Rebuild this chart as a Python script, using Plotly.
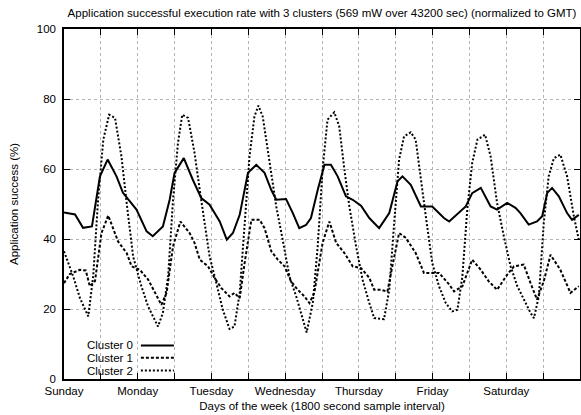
import plotly.graph_objects as go

# ---- data (hours since Sunday 00:00 GMT, success %) ----
c0_hours = [0.0, 3.6, 6.2, 9.1, 11.7, 14.2, 17.1, 19.2, 23.6, 26.9, 28.9, 32.2, 34.4, 36.0, 39.0,
            41.9, 44.7, 47.4, 50.7, 53.0, 55.0, 57.2, 59.9, 62.6, 65.3, 67.5, 69.1, 72.3, 74.5,
            76.6, 78.8, 80.4, 82.6, 84.8, 86.9, 89.1, 91.8, 94.0, 96.7, 99.4, 102.6, 105.9, 108.6,
            110.2, 112.9, 116.2, 119.9, 123.7, 125.4, 128.6, 130.8, 132.9, 135.7, 138.9, 141.0,
            144.3, 147.0, 148.6, 151.3, 154.0, 155.7, 157.3, 158.9, 161.1, 163.8, 165.4, 167.6]
c0_values = [47.6, 47.0, 43.2, 43.6, 57.9, 62.7, 57.9, 53.2, 48.4, 42.2, 40.8, 43.6, 51.2, 58.9, 63.1,
             57.0, 51.7, 49.8, 45.0, 39.8, 41.7, 46.9, 58.9, 61.2, 58.9, 54.0, 51.2, 51.4, 47.4,
             43.1, 44.0, 46.0, 54.0, 61.2, 61.2, 57.9, 52.2, 51.2, 49.5, 46.0, 43.1, 47.4, 56.5,
             57.9, 55.5, 49.3, 49.3, 46.0, 45.0, 47.4, 49.3, 53.1, 54.6, 49.3, 48.4,
             50.3, 48.9, 47.4, 44.1, 45.0, 46.5, 53.1, 54.6, 52.2, 47.4, 45.5, 46.9]

c1_hours = [0.0, 1.9, 5.2, 7.1, 8.4, 10.1, 12.2, 14.4, 17.6, 20.4, 22.0, 24.7, 27.4, 30.1, 31.7,
            33.4, 35.5, 37.9, 40.9, 42.5, 44.2, 46.9, 49.0, 51.2, 53.9, 55.5, 57.2, 58.8, 61.0,
            63.7, 65.3, 67.5, 69.6, 71.8, 73.9, 76.1, 78.3, 79.9, 81.5, 84.2, 86.4, 88.6, 91.3,
            94.0, 96.7, 99.4, 101.0, 103.2, 105.3, 106.9, 109.1, 111.3, 114.5, 117.2, 119.9,
            122.1, 125.4, 127.0, 129.7, 132.9, 135.7, 138.3, 141.0, 144.3, 146.5, 149.7, 151.9,
            154.0, 156.2, 158.4, 161.6, 164.9, 167.6]
c1_values = [27.4, 30.0, 31.2, 31.0, 26.5, 28.0, 41.7, 46.7, 39.3, 36.0, 32.2, 31.2, 28.4, 24.1, 21.2,
             24.6, 37.9, 45.0, 41.7, 38.9, 34.1, 32.2, 28.9, 26.0, 23.6, 24.6, 23.1, 33.1, 45.5,
             45.5, 43.1, 36.5, 34.1, 32.2, 27.9, 25.5, 23.6, 21.7, 24.6, 38.9, 45.0, 38.9, 36.0,
             32.2, 31.7, 28.9, 25.5, 25.5, 25.0, 32.2, 41.7, 40.3, 36.0, 30.3, 30.3,
             30.3, 27.0, 25.0, 26.5, 34.1, 31.2, 27.9, 25.5, 29.8, 32.2, 32.7, 27.4,
             22.7, 27.9, 35.5, 31.2, 24.6, 26.5]

c2_hours = [0.0, 3.0, 5.2, 7.9, 9.5, 11.1, 12.8, 14.7, 16.6, 18.7, 20.4, 22.5, 25.2, 27.4, 30.6,
            32.2, 33.9, 35.5, 37.1, 38.5, 40.4, 42.5, 44.2, 47.4, 49.6, 51.7, 53.9, 55.5, 57.2,
            58.8, 60.4, 62.0, 63.3, 64.7, 66.9, 69.1, 71.2, 73.4, 75.6, 77.7, 79.0, 81.0, 82.6,
            84.2, 85.8, 88.0, 89.6, 91.3, 92.9, 95.1, 97.2, 99.4, 101.0, 104.2, 105.9, 107.5,
            109.1, 110.7, 112.9, 114.5, 116.2, 117.8, 119.9, 122.1, 124.3, 126.4, 128.1, 129.7,
            131.3, 132.9, 134.6, 137.1, 138.9, 141.0, 143.2, 145.4, 147.6, 149.7, 151.9, 153.0,
            154.6, 156.2, 157.8, 159.5, 161.6, 163.8, 166.0, 167.6]
c2_values = [36.5, 29.3, 23.1, 17.9, 29.3, 51.2, 68.4, 75.5, 74.6, 63.6, 50.3, 35.0, 26.5, 20.7, 15.0,
             18.9, 29.3, 51.2, 67.4, 75.5, 74.6, 64.6, 54.0, 35.0, 27.4, 19.8, 14.3, 15.0, 24.6,
             44.6, 63.6, 75.0, 78.1, 75.0, 62.7, 49.3, 39.8, 29.3, 23.6, 16.9, 13.3, 21.7, 37.9,
             60.0, 74.1, 76.2, 72.2, 59.8, 49.3, 37.9, 28.4, 21.7, 17.4, 17.1, 25.5, 44.6,
             62.7, 69.3, 70.5, 68.4, 57.9, 46.5, 33.1, 26.5, 21.7, 19.3, 19.8, 29.3,
             48.4, 61.7, 68.4, 69.8, 63.6, 50.3, 40.8, 32.2, 26.5, 22.7, 18.9, 17.4,
             23.6, 44.6, 57.9, 63.1, 64.1, 57.9, 46.5, 39.8]

series_names = ["Cluster 0", "Cluster 1", "Cluster 2"]
day_names = ["Sunday", "Monday", "Tuesday", "Wednesday", "Thursday", "Friday", "Saturday"]
y_ticks = [0, 20, 40, 60, 80, 100]

FONT = "Liberation Sans, Arial, Helvetica, sans-serif"
dashes = ["solid", "3px,2px", "2px,2px"]

fig = go.Figure()
for name, xs, ys, d in zip(series_names, [c0_hours, c1_hours, c2_hours],
                           [c0_values, c1_values, c2_values], dashes):
    fig.add_trace(go.Scatter(x=xs, y=ys, mode="lines", name=name,
                             line=dict(color="black", width=2, dash=d),
                             showlegend=False))

# x ticks every 12 hours, labels on day starts
tickvals = list(range(0, 169, 12))
ticktext = []
for v in tickvals:
    if v % 24 == 0 and v // 24 < len(day_names):
        ticktext.append(day_names[v // 24])
    else:
        ticktext.append("")

grid = dict(showgrid=True, gridcolor="#b4b4b4", gridwidth=1, griddash="dot")
fig.update_xaxes(range=[0, 168], tickmode="array", tickvals=tickvals, ticktext=ticktext,
                 ticks="inside", ticklen=6, tickcolor="black", tickwidth=1,
                 showline=True, linecolor="black", linewidth=1.5, mirror="ticks",
                 zeroline=False, tickfont=dict(size=11.5, color="black"),
                 title=dict(text="Days of the week (1800 second sample interval)",
                            font=dict(size=11.5, color="black"), standoff=6),
                 automargin=False,
                 **grid)
fig.update_yaxes(range=[0, 100], tickmode="array", tickvals=y_ticks,
                 ticks="inside", ticklen=6, tickcolor="black", tickwidth=1,
                 showline=True, linecolor="black", linewidth=1.5, mirror="ticks",
                 zeroline=False, tickfont=dict(size=11.5, color="black"),
                 ticklabelstandoff=4,
                 title=dict(text="Application success (%)",
                            font=dict(size=11.5, color="black"), standoff=16),
                 automargin=False,
                 **grid)

# gnuplot-style legend (label, then line sample)
leg_y = [0.096, 0.061, 0.024]
for name, d, yy in zip(series_names, dashes, leg_y):
    fig.add_annotation(xref="paper", yref="paper", x=0.137, y=yy, text=name,
                       showarrow=False, xanchor="right", yanchor="middle",
                       font=dict(size=11.5, color="black", family=FONT))
    fig.add_shape(type="line", xref="paper", yref="paper", x0=0.149, x1=0.213, y0=yy, y1=yy,
                  line=dict(color="black", width=2, dash=d))

fig.update_layout(
    width=581, height=415,
    margin=dict(l=64, r=1, t=29, b=36),
    paper_bgcolor="white", plot_bgcolor="white",
    font=dict(family=FONT, size=11.5, color="black"),
    title=dict(text="Application successful execution rate with 3 clusters (569 mW over 43200 sec) (normalized to GMT)",
               x=0.5, xref="paper", xanchor="center", y=1 - 13 / 415, yref="container",
               yanchor="middle", font=dict(size=11.5, color="black")),
)

fig.write_html("out.html", config={"displayModeBar": False},
               post_script="document.body.style.margin='0';document.body.style.overflow='hidden';")
